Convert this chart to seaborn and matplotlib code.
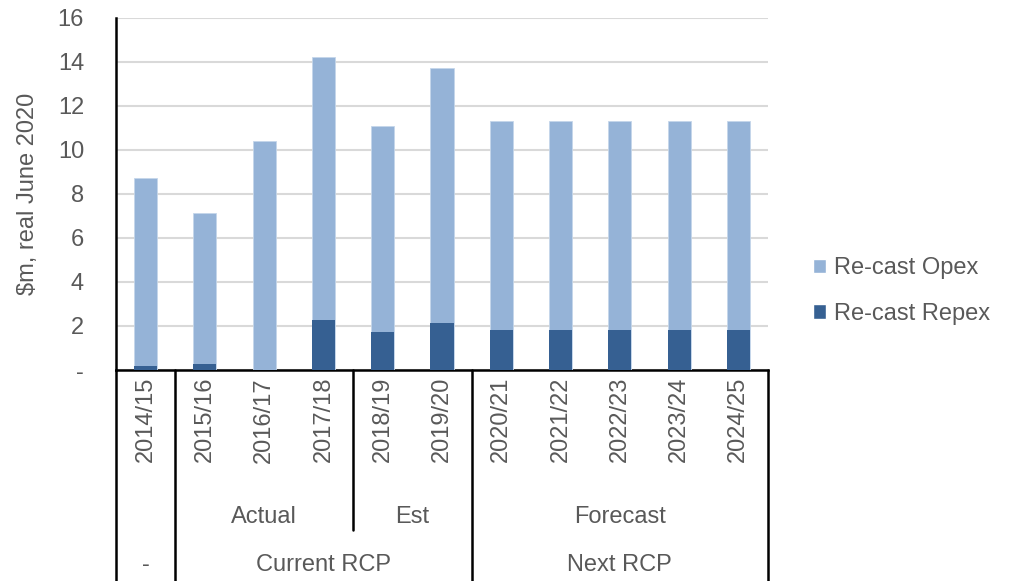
import matplotlib
matplotlib.use("Agg")
import matplotlib.pyplot as plt
import seaborn as sns
import pandas as pd
from matplotlib.patches import Patch
from matplotlib.lines import Line2D

years = ["2014/15", "2015/16", "2016/17", "2017/18", "2018/19", "2019/20",
         "2020/21", "2021/22", "2022/23", "2023/24", "2024/25"]
repex = [0.17, 0.29, 0.0, 2.26, 1.73, 2.14, 1.80, 1.80, 1.80, 1.80, 1.80]
opex = [8.57, 6.85, 10.39, 11.97, 9.36, 11.60, 9.53, 9.53, 9.53, 9.53, 9.53]
level2 = [("Actual", 1, 3), ("Est", 4, 5), ("Forecast", 6, 10)]
level3 = [("-", 0, 0), ("Current RCP", 1, 5), ("Next RCP", 6, 10)]
y_ticks = [0, 2, 4, 6, 8, 10, 12, 14, 16]
y_ticklabels = ["-", "2", "4", "6", "8", "10", "12", "14", "16"]

sns.set_theme(style="white")
plt.rcParams["font.family"] = ["Liberation Sans", "DejaVu Sans"]

TEXT = "#595959"
OPEX_C = "#95B3D7"
REPEX_C = "#366092"
FS = 17

df = pd.DataFrame({"year": years, "opex": opex, "repex": repex})
df["total"] = df["opex"] + df["repex"]

fig = plt.figure(figsize=(10.16, 5.81), dpi=100)
ax = fig.add_axes([116 / 1016, 1 - 370 / 581, (768 - 116) / 1016, (370 - 18) / 581])

sns.barplot(data=df, x="year", y="total", color=OPEX_C, width=0.39, ax=ax,
            saturation=1, edgecolor="#C5D6EA", linewidth=0.6, zorder=3)
sns.barplot(data=df, x="year", y="repex", color=REPEX_C, width=0.39, ax=ax,
            saturation=1, edgecolor="none", zorder=4)

ax.set_xlim(-0.5, len(years) - 0.5)
ax.set_ylim(0, 16)
ax.set_yticks(y_ticks)
ax.set_yticklabels(y_ticklabels, fontsize=FS, color=TEXT)
ax.yaxis.grid(True, color="#D9D9D9", linewidth=1.5, zorder=0)
ax.set_axisbelow(True)
ax.tick_params(axis="y", length=0, pad=23)
ax.tick_params(axis="x", length=0, pad=5)
ax.set_xticks(range(len(years)))
ax.set_xticklabels(years, rotation=90, fontsize=FS, color=TEXT)
ax.set_xlabel("")
ax.set_ylabel("$m, real June 2020", fontsize=FS, color=TEXT)
ax.yaxis.set_label_coords((28 - 116) / 652, 0.5)
ax.yaxis.label.set_va("center")

for side in ["top", "right"]:
    ax.spines[side].set_visible(False)
for side in ["left", "bottom"]:
    ax.spines[side].set_color("black")
    ax.spines[side].set_linewidth(1.8)

trans = ax.get_xaxis_transform()
def yfrac(py):
    return (370 - py) / 352.0

# separator lines of the multi-level category axis
bottom = yfrac(581)
for xpos, ybot in [(-0.5, bottom), (0.5, bottom), (3.5, yfrac(530)),
                   (5.5, bottom), (len(years) - 0.5, bottom)]:
    ax.add_line(Line2D([xpos, xpos], [0, ybot], transform=trans, color="black",
                       linewidth=1.8, clip_on=False, zorder=5))

for name, a, b in level2:
    ax.text((a + b) / 2, yfrac(517), name, transform=trans, ha="center",
            va="center", fontsize=FS, color=TEXT)
for name, a, b in level3:
    ax.text((a + b) / 2, yfrac(565), name, transform=trans, ha="center",
            va="center", fontsize=FS, color=TEXT)

handles = [Patch(facecolor=OPEX_C, label="Re-cast Opex"),
           Patch(facecolor=REPEX_C, label="Re-cast Repex")]
fig.legend(handles=handles, loc="center left", bbox_to_anchor=(792 / 1016, 1 - 291 / 581),
           frameon=False, fontsize=FS, labelcolor=TEXT, handlelength=0.55,
           handleheight=0.55, handletextpad=0.35, labelspacing=1.0)

fig.savefig("out.png", dpi=100)
